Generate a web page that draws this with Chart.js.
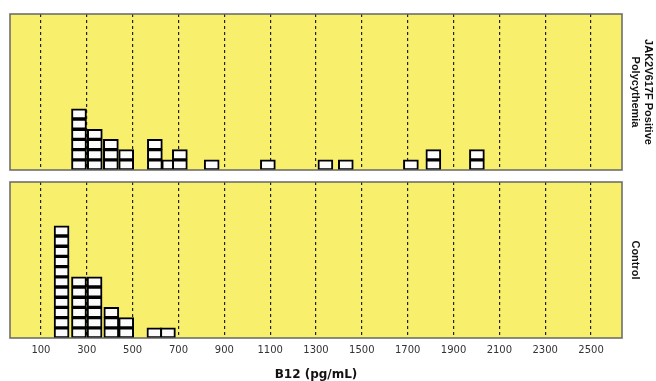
<!DOCTYPE html>
<html>
<head>
<meta charset="utf-8">
<script src="https://cdn.jsdelivr.net/npm/chart.js@4.4.1/dist/chart.umd.min.js"></script>
<style>
  html, body { margin: 0; padding: 0; background: #fff; }
  #wrap { position: relative; width: 656px; height: 381px; }
  .panel { position: absolute; left: 0; width: 656px; }
  #topPanel { top: 0; height: 176px; }
  #bottomPanel { top: 176px; height: 205px; }
</style>
</head>
<body>
<div id="wrap">
  <div class="panel" id="topPanel"><canvas id="jakChart"></canvas></div>
  <div class="panel" id="bottomPanel"><canvas id="controlChart"></canvas></div>
</div>
<script>
// x axis tick values, B12 (pg/mL)
const xTicks = [100, 300, 500, 700, 900, 1100, 1300, 1500, 1700, 1900, 2100, 2300, 2500];

// JAK2V617F positive polycythemia: bin centre and number of stacked boxes
const jakBins = [266, 335, 405, 472, 597, 660, 706, 845, 1090, 1341, 1430, 1714, 1812, 2002];
const jakCounts = [6, 4, 3, 2, 3, 1, 2, 1, 1, 1, 1, 1, 2, 2];

// Control group
const controlBins = [190, 266, 334, 407, 472, 595, 654];
const controlCounts = [11, 6, 6, 3, 2, 1, 1];

const jakLabel = ['JAK2V617F Positive', 'Polycythemia'];
const controlLabel = 'Control';
const xTitle = 'B12 (pg/mL)';

document.addEventListener('DOMContentLoaded', () => {
    initPanel('jakChart', jakBins, jakCounts, jakLabel, false);
    initPanel('controlChart', controlBins, controlCounts, controlLabel, true);
});

// one floating bar per box: [level, level + 1]
function buildBoxes(bins, counts) {
    const boxes = [];
    bins.forEach((b, i) => {
        for (let k = 0; k < counts[i]; k++) {
            boxes.push({ x: b, y: [k, k + 1] });
        }
    });
    return boxes;
}

const panelFrame = {
    id: 'panelFrame',
    beforeDraw(chart) {
        const { ctx, chartArea: a } = chart;
        ctx.save();
        ctx.fillStyle = '#f8f06c';
        ctx.fillRect(a.left, a.top, a.width, a.height);
        ctx.restore();
    },
    afterDraw(chart) {
        const { ctx, chartArea: a } = chart;
        ctx.save();
        ctx.strokeStyle = '#666';
        ctx.lineWidth = 1.5;
        ctx.strokeRect(a.left, a.top, a.width, a.height);
        ctx.restore();
    }
};

function initPanel(canvasId, bins, counts, sideLabel, showAxis) {
    const ctx = document.getElementById(canvasId).getContext('2d');

    new Chart(ctx, {
        type: 'bar',
        data: {
            datasets: [{
                data: buildBoxes(bins, counts),
                backgroundColor: '#fbfbfb',
                borderColor: '#000',
                borderWidth: 2,
                borderSkipped: false,
                barThickness: 15
            }]
        },
        plugins: [panelFrame],
        options: {
            responsive: true,
            maintainAspectRatio: false,
            animation: false,
            layout: {
                padding: showAxis
                    ? { left: 10, top: 6, right: 0, bottom: 0 }
                    : { left: 10, top: 14, right: 0, bottom: 6 }
            },
            plugins: { legend: { display: false }, tooltip: { enabled: false } },
            scales: {
                x: {
                    type: 'linear',
                    min: -35,
                    max: 2635,
                    offset: false,
                    afterBuildTicks: (scale) => {
                        scale.ticks = xTicks.map(v => ({ value: v }));
                    },
                    afterFit: (scale) => { scale.height = showAxis ? 43 : 0; },
                    grid: { offset: false, color: '#222', lineWidth: 1.2, drawTicks: false },
                    border: { display: false, dash: [3, 3] },
                    ticks: {
                        display: showAxis,
                        padding: 6,
                        autoSkip: false,
                        maxRotation: 0,
                        color: '#333',
                        font: { family: 'DejaVu Sans', size: 10 },
                        callback: (value) => String(value)
                    },
                    title: {
                        display: showAxis,
                        text: xTitle,
                        color: '#111',
                        padding: { top: 0, bottom: 0 },
                        font: { family: 'DejaVu Sans', size: 12, weight: 'bold', lineHeight: 1 }
                    }
                },
                y: {
                    display: false,
                    min: 0,
                    max: 15.3
                },
                side: {
                    position: 'right',
                    display: true,
                    afterFit: (scale) => { scale.width = 34; },
                    grid: { display: false, drawTicks: false },
                    border: { display: false },
                    ticks: { display: false },
                    title: {
                        display: true,
                        text: sideLabel,
                        color: '#111',
                        padding: { top: showAxis ? 14 : 1, bottom: 0 },
                        font: { family: 'Liberation Sans', size: 11, weight: 'bold' }
                    }
                }
            }
        }
    });
}
</script>
</body>
</html>
